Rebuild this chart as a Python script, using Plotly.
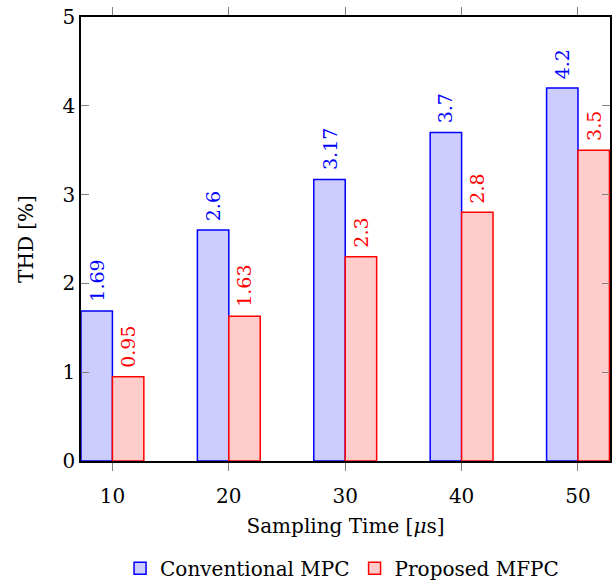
import plotly.graph_objects as go

sampling_time = [10, 20, 30, 40, 50]
conventional_mpc = [1.69, 2.6, 3.17, 3.7, 4.2]
proposed_mfpc = [0.95, 1.63, 2.3, 2.8, 3.5]
conv_labels = ["1.69", "2.6", "3.17", "3.7", "4.2"]
prop_labels = ["0.95", "1.63", "2.3", "2.8", "3.5"]

FONT = "DejaVu Serif"
BW = 2.7
BLUE = "rgb(0,0,255)"
RED = "rgb(255,0,0)"

fig = go.Figure()
fig.add_trace(go.Bar(
    x=sampling_time, y=conventional_mpc, name="Conventional MPC",
    width=BW, offset=-BW,
    marker=dict(color="rgb(204,204,255)", line=dict(color=BLUE, width=1.5)),
))
fig.add_trace(go.Bar(
    x=sampling_time, y=proposed_mfpc, name="Proposed MFPC",
    width=BW, offset=0,
    marker=dict(color="rgb(255,204,204)", line=dict(color=RED, width=1.5)),
))

for xv, yv, lab in zip(sampling_time, conventional_mpc, conv_labels):
    fig.add_annotation(x=xv - BW / 2, y=yv, text=lab, textangle=-90, showarrow=False,
                       xanchor="center", yanchor="bottom", yshift=7,
                       font=dict(color=BLUE, size=19, family=FONT))
for xv, yv, lab in zip(sampling_time, proposed_mfpc, prop_labels):
    fig.add_annotation(x=xv + BW / 2, y=yv, text=lab, textangle=-90, showarrow=False,
                       xanchor="center", yanchor="bottom", yshift=7,
                       font=dict(color=RED, size=19, family=FONT))

fig.update_layout(
    width=613, height=584,
    margin=dict(l=81, r=3, t=17, b=123),
    paper_bgcolor="white", plot_bgcolor="white",
    font=dict(family=FONT, size=20, color="black"),
    barmode="overlay",
    showlegend=True,
    legend=dict(orientation="h", x=0.558, xanchor="center", xref="container",
                y=0.027, yanchor="middle", yref="container",
                font=dict(size=20), itemwidth=30, tracegroupgap=0),
)
fig.update_xaxes(
    range=[7.3, 52.75], tickvals=sampling_time, ticktext=[str(v) for v in sampling_time],
    ticks="outside", ticklen=8, tickcolor="gray", tickwidth=1.2,
    showline=True, linecolor="black", linewidth=1.5, mirror="ticks",
    showgrid=False, zeroline=False, automargin=False, ticklabelstandoff=8,
    title=dict(text="Sampling Time [<i>μ</i>s]", standoff=12, font=dict(size=20)),
    tickfont=dict(size=20),
)
fig.update_yaxes(
    range=[0, 5], tickvals=[0, 1, 2, 3, 4, 5],
    ticks="inside", ticklen=8, tickcolor="gray", tickwidth=1.2,
    showline=True, linecolor="black", linewidth=1.5, mirror="ticks",
    showgrid=False, zeroline=False, automargin=False,
    title=dict(text="THD [%]", standoff=24, font=dict(size=20)),
    tickfont=dict(size=20),
)

fig.write_html("out.html")
